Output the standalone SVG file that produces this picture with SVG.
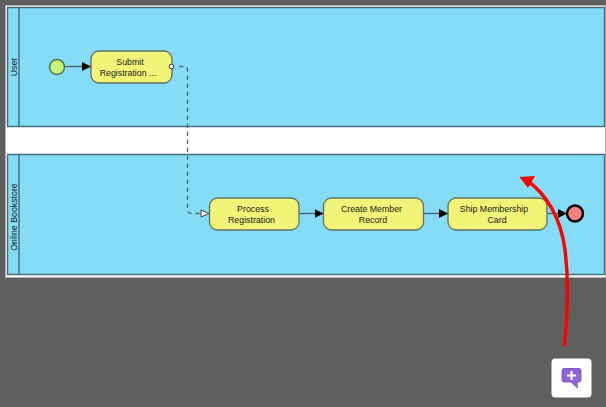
<svg xmlns="http://www.w3.org/2000/svg" width="606" height="407" viewBox="0 0 606 407">
<style>
.t{font-family:"Liberation Sans",Arial,sans-serif;font-size:8.8px;fill:#1a1a1a;text-anchor:middle}
.pool{fill:#85dcf7;stroke:#47707f;stroke-width:1.5}
.hd{fill:none;stroke:#47707f;stroke-width:1.5}
.task{fill:#f1f477;stroke:#5f7068;stroke-width:1.3}
.flow{fill:none;stroke:#3f5f6b;stroke-width:1.300}
.msg{fill:none;stroke:#4f6b78;stroke-width:1.300;stroke-dasharray:4.500 3.500}
</style>
<defs>
<marker id="a" markerUnits="userSpaceOnUse" markerWidth="10" markerHeight="10" refX="9" refY="4.500" orient="auto"><path d="M0 0L9 4.500L0 9Z" fill="#000"/></marker>
</defs>
<rect width="606" height="407" fill="#5f5f5f"/>
<rect x="5" y="5" width="601" height="273" fill="#fff"/>
<rect x="5.500" y="5.500" width="600" height="272" fill="none" stroke="#b4b4b4"/>
<g id="pool-user">
<rect class="pool" x="7.500" y="7.500" width="597" height="119"/>
<path class="hd" d="M19 7.500V126.500"/>
<text class="t" transform="translate(16.500 67) rotate(-90)">User</text>
</g>
<g id="pool-bookstore">
<rect class="pool" x="7.500" y="154.500" width="597" height="120"/>
<path class="hd" d="M19 154.500V274.500"/>
<text class="t" transform="translate(16.500 217) rotate(-90)">Online Bookstore</text>
</g>
<g id="connectors">
<path class="flow" d="M65 66.500H91" marker-end="url(#a)"/>
<path class="msg" d="M179 66.500H184Q187.500 66.500 187.500 70V209Q187.500 213.500 191 213.500H201"/>
<path class="flow" d="M299 213.500H323.500" marker-end="url(#a)"/>
<path class="flow" d="M423.500 213.500H448" marker-end="url(#a)"/>
<path class="flow" d="M547 213.500H567" marker-end="url(#a)"/>
<path d="M201 210L209 213.500L201 217Z" fill="#fff" stroke="#3f3f3f" stroke-width="1"/>
</g>
<g id="start"><circle cx="57" cy="67" r="7.500" fill="#c8f578" stroke="#4f6f5a" stroke-width="1.500"/></g>
<g id="submit">
<rect class="task" x="91" y="51" width="81" height="32" rx="8"/>
<text class="t" x="130" y="64.500">Submit</text>
<text class="t" x="128" y="76">Registration ...</text>
<circle cx="171.500" cy="66.500" r="2.300" fill="#fff" stroke="#333" stroke-width="1"/>
</g>
<g id="process">
<rect class="task" x="209.500" y="198" width="89.500" height="32" rx="8"/>
<text class="t" x="253" y="212">Process</text>
<text class="t" x="251.500" y="223">Registration</text>
</g>
<g id="create">
<rect class="task" x="323.500" y="198" width="100" height="32" rx="8"/>
<text class="t" x="371.500" y="212">Create Member</text>
<text class="t" x="373" y="223">Record</text>
</g>
<g id="ship">
<rect class="task" x="448" y="198" width="99" height="32" rx="8"/>
<text class="t" x="494" y="212">Ship Membership</text>
<text class="t" x="497" y="223">Card</text>
</g>
<g id="end"><circle cx="575" cy="213.500" r="8" fill="#f77f80" stroke="#000" stroke-width="2.400"/></g>
<g id="annotation">
<path d="M564.500 346C566 325 570 290 565 250C561 218 546 193 526 180" fill="none" stroke="#f00" stroke-width="3.400"/>
<path d="M519.500 177L535 176L528 188Z" fill="#f00"/>
</g>
<g id="button">
<rect x="551.500" y="358.500" width="40" height="39" rx="4" fill="#fff"/>
<path d="M564 368.500H579Q581 368.500 581 370.500V380Q581 382 579 382H577L577.500 388L571 382H564Q562 382 562 380V370.500Q562 368.500 564 368.500Z" fill="#8e63d8" stroke="#6f4ab5" stroke-width=".8"/>
<path d="M571.500 371V380M567 375.500H576" stroke="#fff" stroke-width="2.200" fill="none"/>
</g>
</svg>
